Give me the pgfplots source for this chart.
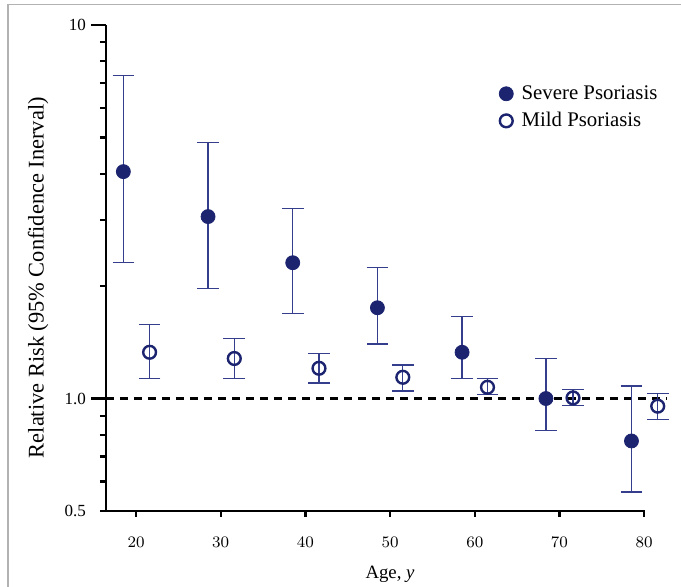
\documentclass[border=0pt]{standalone}
\usepackage{pgfplots}
\usepackage{pgfplotstable}
\pgfplotsset{compat=1.18}
\usepackage{fontspec}
\setmainfont{Liberation Serif}

\definecolor{navy}{RGB}{28,36,112}
\definecolor{barblue}{RGB}{52,62,140}

% relative risk with 95% CI (lo, hi)
\pgfplotstableread{
x     y      lo     hi
18.5  4.05   2.31   7.32
28.5  3.07   1.97   4.85
38.5  2.31   1.69   3.22
48.5  1.75   1.40   2.24
58.5  1.33   1.13   1.66
68.4  1.00   0.823  1.28
78.5  0.77   0.562  1.08
}\severe

\pgfplotstableread{
x     y      lo     hi
21.6  1.33   1.13   1.58
31.6  1.28   1.13   1.45
41.6  1.205  1.10   1.32
51.5  1.14   1.048  1.23
61.5  1.072  1.023  1.13
71.6  1.004  0.956  1.057
81.6  0.954  0.879  1.031
}\mild

\begin{document}
\begin{tikzpicture}
\useasboundingbox (0,0) rectangle (340.5pt,293.5pt);
\draw[gray!60, line width=0.8pt] (4pt,0) -- (4pt,291.3pt) -- (340.5pt,291.3pt);
\begin{axis}[
    at={(53pt,38pt)}, anchor=south west,
    scale only axis,
    width=269.5pt, height=243pt,
    ymode=log,
    xmin=16.45, xmax=80.1,
    ymin=0.5, ymax=10,
    clip=false,
    axis lines=left,
    axis line style={-, line width=1.1pt, black},
    tick align=outside,
    tick style={line width=1.1pt, black},
    major tick length=3pt,
    xtick={20,30,40,50,60,70,80},
    ytick={0.5,0.6,0.7,0.8,0.9,1,2,3,4,5,6,7,8,9,10},
    yticklabels={0.5,,,,,1.0,,,,,,,,,10},
    minor ytick={},
    extra y ticks={1,10},
    extra y tick labels={},
    extra y tick style={major tick length=7.5pt},
    tick label style={font=\fontsize{8.5}{10}\selectfont},
    yticklabel style={xshift=-3.5pt},
    xticklabel style={yshift=-6.5pt},
    xlabel={Age, \textit{y}},
    ylabel={Relative Risk (95\% Confidence Inerval)},
    xlabel style={at={(axis description cs:0.527,-0.138)}, anchor=base,
        font=\fontsize{9.4}{11}\selectfont},
    ylabel style={at={(axis description cs:-0.126,0.48)}, rotate=0, anchor=center,
        font=\fontsize{11.2}{13}\selectfont},
    legend style={at={(axis description cs:0.717,0.893)}, anchor=north west,
        draw=none, fill=none, row sep=1pt,
        font=\fontsize{10.4}{12}\selectfont},
    legend cell align=left,
    legend image code/.code={\path (0pt,0pt) (9pt,0pt);\draw[#1] plot coordinates {(3.5pt,0pt)};},
]
\addplot[black, dashed, line width=1.2pt, dash pattern=on 4pt off 3pt, forget plot]
    coordinates {(16.45,1) (82.6,1)};

\addplot[only marks, mark=*, mark size=3.5pt, color=navy,
    error bars/.cd, y dir=both, y explicit,
    error bar style={line width=0.6pt, color=barblue},
    error mark options={rotate=90, mark size=5.4pt, line width=0.6pt, color=barblue}]
    table[x=x, y=y, y error plus expr=\thisrow{hi}-\thisrow{y},
          y error minus expr=\thisrow{y}-\thisrow{lo}] {\severe};
\addlegendentry{Severe Psoriasis}

\addplot[only marks, mark=o, mark size=3.2pt, color=navy,
    mark options={fill=white, line width=1.2pt},
    error bars/.cd, y dir=both, y explicit,
    error bar style={line width=0.6pt, color=barblue},
    error mark options={rotate=90, mark size=5.4pt, line width=0.6pt, color=barblue}]
    table[x=x, y=y, y error plus expr=\thisrow{hi}-\thisrow{y},
          y error minus expr=\thisrow{y}-\thisrow{lo}] {\mild};
\addlegendentry{Mild Psoriasis}
\end{axis}
\end{tikzpicture}
\end{document}
